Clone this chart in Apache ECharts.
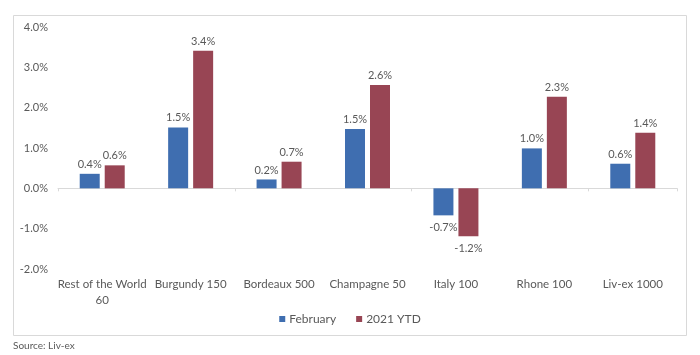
<!DOCTYPE html>
<html>
<head>
<meta charset="utf-8">
<script src="https://cdn.jsdelivr.net/npm/echarts@6/dist/echarts.min.js"></script>
<style>
html,body{margin:0;padding:0;background:#fff;}
#chart{width:700px;height:355px;}
</style>
</head>
<body>
<div id="chart"></div>
<script>
const categories = ["Rest of the World\n60", "Burgundy 150", "Bordeaux 500", "Champagne 50", "Italy 100", "Rhone 100", "Liv-ex 1000"];
const february = [0.36, 1.51, 0.22, 1.47, -0.67, 0.99, 0.61];
const ytd2021 = [0.57, 3.41, 0.66, 2.56, -1.19, 2.27, 1.38];
const seriesNames = ["February", "2021 YTD"];
const yTicks = [-2, -1, 0, 1, 2, 3, 4];

const FONT = 'Lato';
const TXT = '#595959';

function mkData(arr) {
  return arr.map(v => ({
    value: v,
    label: v < 0 ? { position: 'bottom', distance: 7 } : { position: 'top', distance: 4 }
  }));
}

const chart = echarts.init(document.getElementById('chart'), null, {renderer: 'canvas'});
chart.setOption({
  animation: false,
  backgroundColor: '#fff',
  textStyle: { fontFamily: FONT },
  graphic: [
    { type: 'rect', shape: { x: 13.5, y: 15.5, width: 673, height: 320 }, style: { fill: 'none', stroke: '#d9d9d9', lineWidth: 1 }, z: -1 },
    { type: 'text', left: 13, top: 341, style: { text: 'Source: Liv-ex', fill: TXT, font: '10px ' + FONT } }
  ],
  grid: { left: 58, right: 23, top: 27, bottom: 86, containLabel: false },
  legend: {
    data: seriesNames,
    bottom: 25,
    left: 'center',
    itemWidth: 6, itemHeight: 6, itemGap: 20,
    icon: 'rect',
    textStyle: { color: TXT, fontSize: 12, fontFamily: FONT, padding: [0,0,0,-1] }
  },
  xAxis: [
    {
      type: 'category',
      data: categories,
      axisLine: { onZero: true, lineStyle: { color: '#d9d9d9' } },
      axisTick: { show: true, length: 3, lineStyle: { color: '#d9d9d9' } },
      axisLabel: { show: false }
    },
    {
      type: 'category', data: categories, position: 'bottom', offset: 0,
      axisLine: { show: false }, axisTick: { show: false },
      axisLabel: { color: TXT, fontSize: 11.5, fontFamily: FONT, margin: 7, lineHeight: 16, interval: 0 }
    }
  ],
  yAxis: {
    type: 'value',
    min: yTicks[0], max: yTicks[yTicks.length - 1], interval: 1,
    splitLine: { show: false },
    axisLine: { show: false },
    axisTick: { show: false },
    axisLabel: { color: TXT, fontSize: 11, fontFamily: FONT, margin: 10, formatter: v => v.toFixed(1) + '%' }
  },
  series: [
    {
      name: seriesNames[0], type: 'bar', data: mkData(february),
      barWidth: 20, barGap: '25%',
      itemStyle: { color: '#3F6EB0' },
      label: { show: true, color: TXT, fontSize: 11, fontFamily: FONT, formatter: p => p.value.toFixed(1) + '%' }
    },
    {
      name: seriesNames[1], type: 'bar', data: mkData(ytd2021),
      barWidth: 20,
      itemStyle: { color: '#984554' },
      label: { show: true, color: TXT, fontSize: 11, fontFamily: FONT, formatter: p => p.value.toFixed(1) + '%' }
    }
  ]
});
</script>
</body>
</html>
